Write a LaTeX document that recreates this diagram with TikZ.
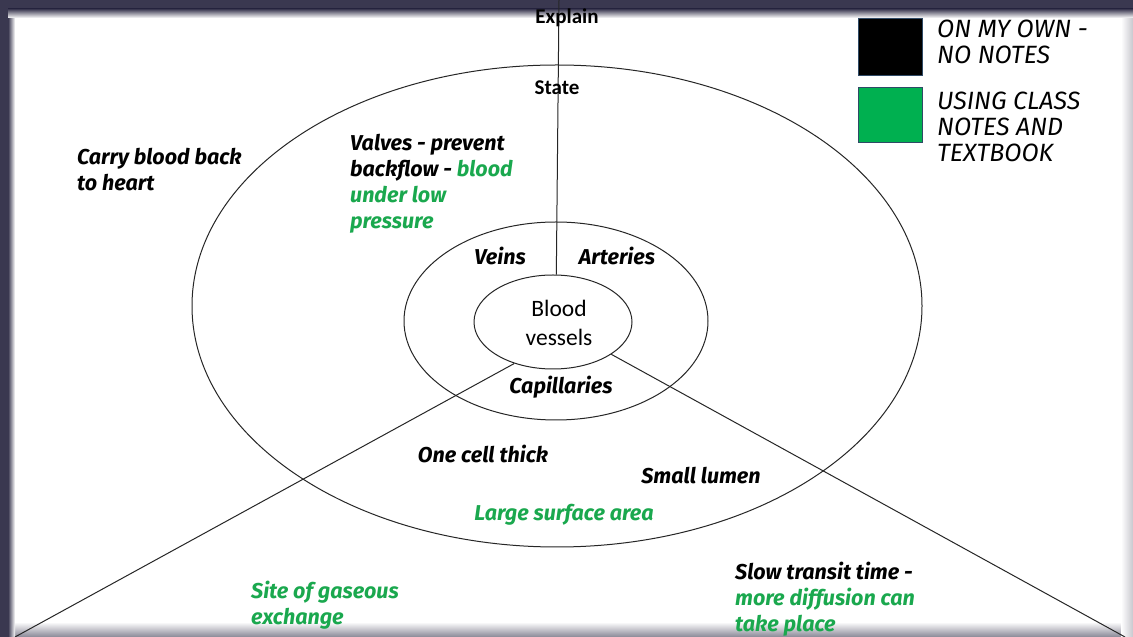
\documentclass[tikz,border=0pt]{standalone}
\usepackage{fontspec}
\usetikzlibrary{shapes.geometric}
\setmainfont{Carlito}
\newfontfamily\handfont{Fira Sans}
\definecolor{framedark}{HTML}{3A3850}
\definecolor{notegreen}{HTML}{1AA84E}
\definecolor{boxgreen}{HTML}{00B050}
\definecolor{boxedge}{HTML}{2F4A66}
\tikzset{
  ring/.style={ellipse, draw=black!85, line width=1pt, inner sep=0pt},
  spoke/.style={draw=black!85, line width=1pt},
  hand/.style={font=\handfont\itshape\bfseries\fontsize{21.5}{26}\selectfont, align=left, inner sep=0pt},
  legendtxt/.style={font=\handfont\itshape\fontsize{25}{26}\selectfont, align=left, inner sep=0pt, anchor=north west},
  heading/.style={font=\bfseries\fontsize{21}{24}\selectfont, inner sep=0pt},
  centre/.style={font=\fontsize{23.5}{29}\selectfont, align=center, inner sep=0pt},
  swatch/.style={draw=boxedge, line width=0.6pt},
}
\begin{document}
\begin{tikzpicture}[x=1pt,y=1pt]
\useasboundingbox (0,0) rectangle (1133,637);
% page with its dark surround and soft inner edge
\fill[white] (0,0) rectangle (1133,637);
\shade[top color=white, bottom color=framedark!60!white] (0,0) rectangle (1133,15);
\shade[left color=white, right color=framedark!28!white] (1121,0) rectangle (1133,637);
\fill[framedark] (0,0) rectangle (8,637);
\shade[left color=framedark, right color=white] (8,0) rectangle (15,637);
\fill[framedark] (0,628) rectangle (1133,637);
\shade[top color=framedark, bottom color=white] (8,619) rectangle (1133,628);

% concentric rings
\node[ring, minimum width=730, minimum height=482] (outer) at (557,331) {};
\node[ring, minimum width=304, minimum height=198] (middle) at (556,316) {};
\node[ring, minimum width=158, minimum height=94] (inner) at (553,315) {};

% dividing spokes
\coordinate (topend) at (559,637);
\coordinate (leftend) at (15,0);
\coordinate (rightend) at (1125,0);
\draw[spoke] (inner.86) -- (topend);
\draw[spoke] (inner.227) -- (leftend);
\draw[spoke] (inner.331) -- (rightend);

% ring headings
\node[heading] (explain) at (567,619) {Explain};
\node[heading] (state) at (557,549) {State};

% centre
\node[centre] (bv) at (559,314) {Blood\\vessels};

% middle ring labels
\node[hand] (veins) at (500,381) {Veins};
\node[hand] (arteries) at (617,381) {Arteries};
\node[hand] (caps) at (561,250) {Capillaries};

% veins
\node[hand, anchor=west] (carry) at (77,467) {Carry blood back\\to heart};
\node[hand, anchor=north west] (valves) at (350,503) {Valves - prevent\\backflow - \textcolor{notegreen}{blood}\\\textcolor{notegreen}{under low}\\\textcolor{notegreen}{pressure}};

% capillaries
\node[hand] (onecell) at (483,183) {One cell thick};
\node[hand] (lumen) at (701,161) {Small lumen};
\node[hand, text=notegreen] (surface) at (564,122) {Large surface area};
\node[hand, anchor=north west, text=notegreen] (gas) at (251,56) {Site of gaseous\\exchange};
\node[hand, anchor=north west] (slow) at (735,75) {Slow transit time -\\\textcolor{notegreen}{more diffusion can}\\\textcolor{notegreen}{take place}};

% legend
\filldraw[swatch, fill=black] (858,562) rectangle (922,619);
\filldraw[swatch, fill=boxgreen] (858,495) rectangle (922,550);
\node[legendtxt] (own) at (937,617) {ON MY OWN -\\NO NOTES};
\node[legendtxt] (class) at (937,545) {USING CLASS\\NOTES AND\\TEXTBOOK};
\end{tikzpicture}
\end{document}
